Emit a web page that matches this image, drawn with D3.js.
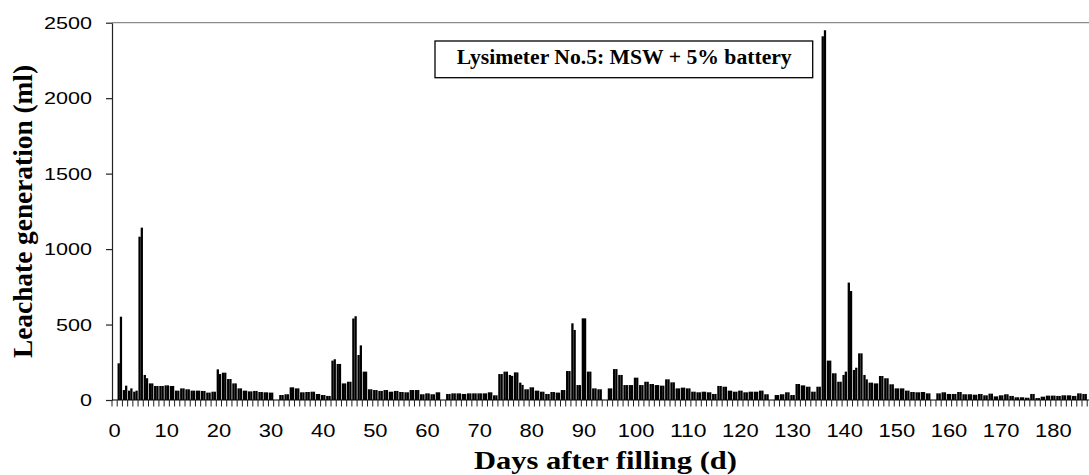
<!DOCTYPE html>
<html>
<head>
<meta charset="utf-8">
<script src="https://cdn.jsdelivr.net/npm/d3@7"></script>
<style>
  html, body { margin: 0; padding: 0; background: #fff; }
  svg { display: block; }
</style>
</head>
<body>
<svg id="chart" width="1089" height="475"></svg>
<script>
// Daily leachate volume (ml), two readings per day, day 0 .. day 186
const volumeA = [
  0, 243, 66, 62, 55, 1082, 166, 110, 93, 93,
  97, 93, 62, 77, 71, 62, 62, 60, 49, 55,
  203, 181, 139, 110, 77, 62, 57, 60, 53, 51,
  49, 0, 33, 38, 84, 77, 51, 53, 55, 40,
  33, 27, 261, 239, 110, 121, 540, 298, 188, 71,
  66, 60, 66, 55, 60, 53, 51, 66, 66, 38,
  44, 38, 51, 0, 40, 44, 44, 40, 44, 44,
  44, 44, 51, 31, 172, 188, 166, 183, 115, 71,
  84, 62, 55, 40, 53, 49, 66, 192, 508, 99,
  541, 188, 77, 71, 0, 77, 205, 166, 99, 99,
  148, 99, 121, 106, 99, 95, 137, 117, 77, 82,
  77, 55, 51, 55, 51, 40, 93, 88, 62, 55,
  62, 51, 55, 55, 62, 38, 0, 33, 38, 51,
  33, 106, 97, 88, 55, 88, 2410, 261, 177, 121,
  166, 778, 199, 309, 166, 115, 110, 159, 144, 104,
  77, 77, 62, 53, 51, 53, 44, 0, 44, 51,
  40, 40, 53, 38, 38, 35, 40, 31, 42, 24,
  31, 38, 27, 18, 18, 15, 40, 13, 22, 29,
  29, 27, 31, 31, 27, 44, 40
];
const volumeB = [
  0, 552, 95, 77, 62, 1142, 144, 110, 93, 93,
  97, 93, 62, 77, 71, 62, 62, 60, 49, 55,
  172, 181, 139, 110, 77, 62, 57, 60, 53, 51,
  49, 0, 33, 38, 84, 77, 51, 53, 55, 40,
  33, 27, 270, 239, 110, 121, 555, 362, 188, 71,
  66, 60, 66, 55, 60, 53, 51, 66, 66, 38,
  44, 38, 51, 0, 40, 44, 44, 40, 44, 44,
  44, 44, 51, 31, 172, 188, 160, 183, 100, 71,
  84, 62, 55, 40, 53, 49, 66, 192, 464, 99,
  541, 188, 77, 71, 0, 77, 205, 166, 99, 99,
  148, 99, 121, 106, 99, 95, 137, 117, 77, 82,
  77, 55, 51, 55, 51, 40, 93, 88, 62, 55,
  62, 51, 55, 55, 62, 38, 0, 33, 38, 51,
  33, 106, 97, 88, 55, 88, 2450, 261, 177, 121,
  188, 722, 214, 309, 137, 115, 110, 159, 144, 104,
  77, 77, 62, 53, 51, 53, 44, 0, 44, 51,
  40, 40, 53, 38, 38, 35, 40, 31, 42, 24,
  31, 38, 27, 18, 18, 15, 40, 13, 22, 29,
  29, 27, 31, 31, 27, 44, 40
];
const xTickLabels = [0, 10, 20, 30, 40, 50, 60, 70, 80, 90, 100, 110, 120, 130, 140, 150, 160, 170, 180];
const yTickValues = [0, 500, 1000, 1500, 2000, 2500];
const legendText = "Lysimeter No.5: MSW + 5% battery";
const xTitle = "Days after filling (d)";
const yTitle = "Leachate generation (ml)";

const days = volumeA.map((_, i) => i);

const W = 1089, H = 475;
const plotLeft = 112, plotTop = 22.7, plotBottom = 400;
const catStep = 5.215;
const gap = 0.13;

const svg = d3.select("#chart");

const x = d3.scaleBand()
  .domain(days)
  .range([plotLeft, plotLeft + catStep * days.length])
  .paddingInner(gap)
  .paddingOuter(gap / 2);
const y = d3.scaleLinear().domain([0, 2500]).range([plotBottom, plotTop]);
const bw = x.bandwidth();

// plot frame top edge
svg.append("line")
  .attr("x1", plotLeft).attr("x2", W)
  .attr("y1", y(2500)).attr("y2", y(2500))
  .attr("stroke", "#8a8a8a").attr("stroke-width", 1.2);

// bars: two readings side by side within each day
const barG = svg.append("g").attr("fill", "#000");
days.forEach(d => {
  if (volumeA[d] > 0) {
    barG.append("rect")
      .attr("x", x(d)).attr("width", bw / 2 + 0.05)
      .attr("y", y(volumeA[d])).attr("height", y(0) - y(volumeA[d]));
  }
  if (volumeB[d] > 0) {
    barG.append("rect")
      .attr("x", x(d) + bw / 2).attr("width", bw / 2)
      .attr("y", y(volumeB[d])).attr("height", y(0) - y(volumeB[d]));
  }
});

// y axis
const yAxis = svg.append("g")
  .attr("transform", `translate(${plotLeft},0)`)
  .call(d3.axisLeft(y).tickValues(yTickValues).tickFormat(d3.format("d"))
    .tickSize(6).tickSizeOuter(0).tickPadding(14));
yAxis.select(".domain").attr("stroke", "#222").attr("stroke-width", 1.2);
yAxis.selectAll(".tick line").attr("stroke", "#222").attr("stroke-width", 1.2);
yAxis.selectAll(".tick text")
  .attr("font-family", "'Liberation Sans', Arial, sans-serif")
  .attr("font-size", 16)
  .attr("fill", "#000")
  .attr("dy", "0.36em")
  .attr("textLength", function () { return this.textContent.length * 12; })
  .attr("lengthAdjust", "spacingAndGlyphs");

// x axis: category ticks between days, labels every 10 days
const xAxisG = svg.append("g");
xAxisG.append("line")
  .attr("x1", plotLeft).attr("x2", W)
  .attr("y1", plotBottom).attr("y2", plotBottom)
  .attr("stroke", "#000").attr("stroke-width", 1.2);
const boundaries = days.concat([days.length]);
xAxisG.selectAll("line.cat")
  .data(boundaries)
  .join("line")
  .attr("class", "cat")
  .attr("x1", d => plotLeft + d * x.step())
  .attr("x2", d => plotLeft + d * x.step())
  .attr("y1", plotBottom).attr("y2", plotBottom + 6.5)
  .attr("stroke", "#222").attr("stroke-width", 1);

const xLabels = svg.append("g")
  .attr("transform", `translate(0,${plotBottom})`)
  .call(d3.axisBottom(x).tickValues(xTickLabels).tickSize(0).tickSizeOuter(0));
xLabels.select(".domain").remove();
xLabels.selectAll(".tick text")
  .attr("font-family", "'Liberation Sans', Arial, sans-serif")
  .attr("font-size", 19)
  .attr("fill", "#000")
  .attr("y", 37).attr("dy", 0)
  .attr("textLength", function () { return this.textContent.length * 12.2; })
  .attr("lengthAdjust", "spacingAndGlyphs");

// axis titles
svg.append("text")
  .attr("x", 605.5).attr("y", 469)
  .attr("text-anchor", "middle")
  .attr("font-family", "'Liberation Serif', 'Times New Roman', serif")
  .attr("font-weight", "bold")
  .attr("font-size", 25)
  .attr("textLength", 263)
  .attr("lengthAdjust", "spacingAndGlyphs")
  .text(xTitle);

svg.append("text")
  .attr("transform", "translate(32,211.5) rotate(-90)")
  .attr("text-anchor", "middle")
  .attr("font-family", "'Liberation Serif', 'Times New Roman', serif")
  .attr("font-weight", "bold")
  .attr("font-size", 27)
  .attr("textLength", 293)
  .attr("lengthAdjust", "spacingAndGlyphs")
  .text(yTitle);

// legend box
svg.append("rect")
  .attr("x", 435).attr("y", 41)
  .attr("width", 377.7).attr("height", 36.7)
  .attr("fill", "#fff").attr("stroke", "#000").attr("stroke-width", 1.3);
svg.append("text")
  .attr("x", 624.2).attr("y", 63.5)
  .attr("text-anchor", "middle")
  .attr("font-family", "'Liberation Serif', 'Times New Roman', serif")
  .attr("font-weight", "bold")
  .attr("font-size", 20)
  .attr("textLength", 335)
  .attr("lengthAdjust", "spacingAndGlyphs")
  .text(legendText);
</script>
</body>
</html>
